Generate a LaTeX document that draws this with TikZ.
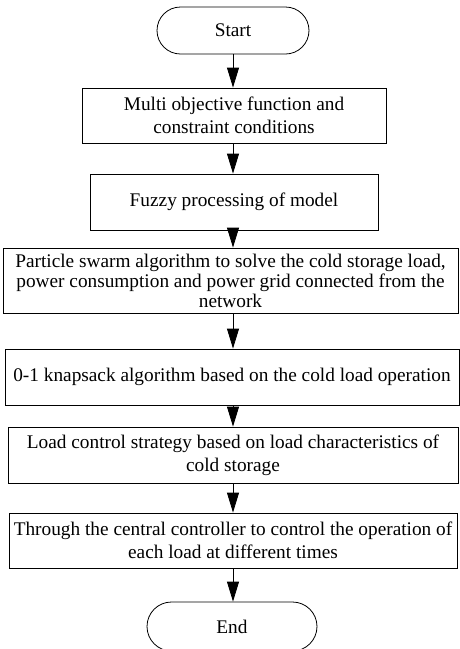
\documentclass[tikz,border=0pt]{standalone}
\usepackage{fontspec}
\setmainfont{Liberation Serif}
\usetikzlibrary{arrows.meta,shapes.misc}

\tikzset{
    stepbox/.style={draw, rectangle, line width=0.8pt, align=center,
        font=\fontsize{19.3}{23}\selectfont, inner sep=0pt},
    terminal/.style={draw, rounded rectangle, line width=0.8pt,
        font=\fontsize{19.3}{23}\selectfont, inner sep=0pt},
    flow/.style={-{Triangle[length=20pt,width=12pt]}, line width=0.8pt}
}

\begin{document}
\begin{tikzpicture}[x=1pt,y=-1pt]

            \useasboundingbox (0,0) rectangle (459,649);

            \node[terminal,
                minimum width=152pt,
                minimum height=47pt] (start) at (233,30.5) {Start};

            \node[stepbox,
                minimum width=304pt,
                minimum height=55pt] (obj) at (234,115.5)
                {Multi objective function and\\constraint conditions};

            \node[stepbox,
                minimum width=288pt,
                minimum height=56pt] (fuzzy) at (234,202)
                {Fuzzy processing of model};

            \node[stepbox,
                font=\fontsize{19.3}{20}\selectfont,
                minimum width=455pt,
                minimum height=65pt] (pso) at (230.5,280.5)
                {Particle swarm algorithm to solve the cold storage load,\\
                 power consumption and power grid connected from the\\network};

            \node[stepbox,
                minimum width=454pt,
                minimum height=56pt] (knap) at (232,377)
                {0-1 knapsack algorithm based on the cold load operation};

            \node[stepbox,
                minimum width=450pt,
                minimum height=56pt] (strategy) at (233,455)
                {Load control strategy based on load characteristics of\\cold storage};

            \node[stepbox,
                minimum width=448pt,
                minimum height=55pt] (ctrl) at (233,540.5)
                {Through the central controller to control the operation of\\
                 each load at different times};

            \node[terminal,
                minimum width=170pt,
                minimum height=49pt] (end) at (232,626.5) {End};

            \draw[flow] (start.south) -- (start.south |- obj.north);
            \draw[flow] (start.south |- obj.south) -- (start.south |- fuzzy.north);
            \draw[flow] (start.south |- fuzzy.south) -- (start.south |- pso.north);
            \draw[flow] (start.south |- pso.south) -- (start.south |- knap.north);
            \draw[flow] (start.south |- knap.south) -- (start.south |- strategy.north);
            \draw[flow] (start.south |- strategy.south) -- (start.south |- ctrl.north);
            \draw[flow] (start.south |- ctrl.south) -- (end.north -| start.south);

\end{tikzpicture}
\end{document}
